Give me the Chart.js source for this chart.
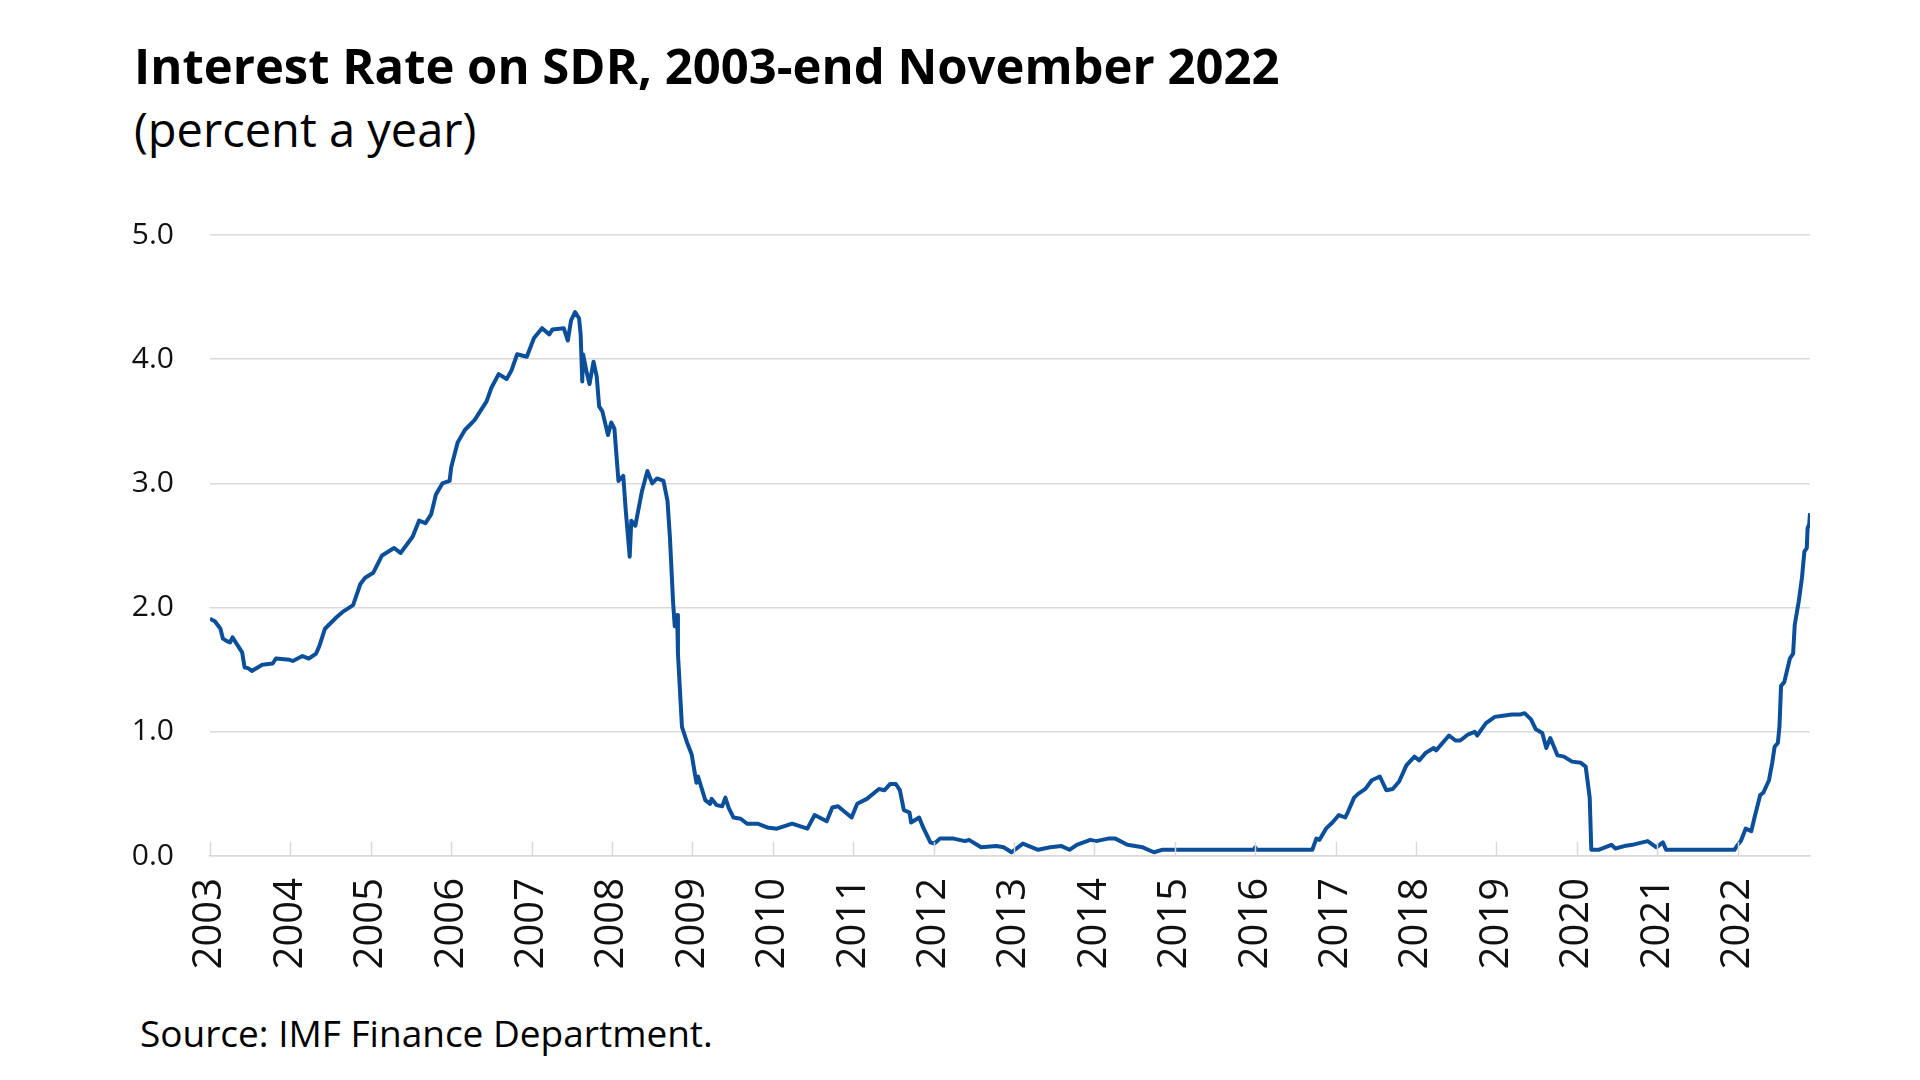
<!DOCTYPE html>
<html>
<head>
<meta charset="utf-8">
<script src="https://cdn.jsdelivr.net/npm/chart.js@4.4.1/dist/chart.umd.min.js"></script>
<style>
  html, body { margin: 0; padding: 0; background: #fff; }
  body { width: 1920px; height: 1080px; position: relative; overflow: hidden; font-family: "Open Sans", sans-serif; color: #000; }
  .txt { position: absolute; white-space: nowrap; line-height: 1; }
  #title { left: 134px; top: 41px; font-size: 49px; font-weight: 700; }
  #subtitle { left: 134px; top: 106px; font-size: 47px; }
  #source { left: 140px; top: 1014px; font-size: 37px; }
  #wrap { position: absolute; left: 0; top: 0; width: 1920px; height: 1080px; }
</style>
</head>
<body>
<div class="txt" id="title">Interest Rate on SDR, 2003-end November 2022</div>
<div class="txt" id="subtitle">(percent a year)</div>
<div class="txt" id="source">Source: IMF Finance Department.</div>
<div id="wrap"><canvas id="chart" width="1920" height="1080"></canvas></div>
<script>
// decimal years and SDR interest rate (percent a year)
const years = [
    2003.00, 2003.06, 2003.13, 2003.16, 2003.21, 2003.25, 2003.28, 2003.34, 2003.40, 2003.43,
    2003.48, 2003.52, 2003.65, 2003.78, 2003.82, 2003.99, 2004.03, 2004.15, 2004.23, 2004.32,
    2004.36, 2004.43, 2004.57, 2004.66, 2004.78, 2004.87, 2004.93, 2005.03, 2005.14, 2005.29,
    2005.37, 2005.52, 2005.60, 2005.68, 2005.75, 2005.81, 2005.89, 2005.98, 2006.00, 2006.08,
    2006.17, 2006.29, 2006.36, 2006.44, 2006.50, 2006.59, 2006.69, 2006.75, 2006.82, 2006.94,
    2007.03, 2007.13, 2007.22, 2007.26, 2007.40, 2007.45, 2007.49, 2007.54, 2007.59, 2007.61,
    2007.63, 2007.64, 2007.68, 2007.72, 2007.77, 2007.81, 2007.84, 2007.88, 2007.95, 2007.99,
    2008.03, 2008.08, 2008.14, 2008.17, 2008.22, 2008.24, 2008.29, 2008.37, 2008.44, 2008.50,
    2008.56, 2008.64, 2008.69, 2008.72, 2008.76, 2008.78, 2008.81, 2008.82, 2008.87, 2008.93,
    2008.99, 2009.05, 2009.07, 2009.16, 2009.22, 2009.24, 2009.30, 2009.37, 2009.41, 2009.45,
    2009.51, 2009.60, 2009.68, 2009.81, 2009.93, 2010.05, 2010.24, 2010.43, 2010.52, 2010.67,
    2010.74, 2010.81, 2010.98, 2011.05, 2011.17, 2011.32, 2011.39, 2011.46, 2011.53, 2011.58,
    2011.63, 2011.70, 2011.72, 2011.82, 2011.87, 2011.96, 2012.01, 2012.08, 2012.25, 2012.39,
    2012.44, 2012.59, 2012.78, 2012.87, 2012.97, 2013.11, 2013.30, 2013.45, 2013.59, 2013.69,
    2013.78, 2013.95, 2014.02, 2014.17, 2014.26, 2014.41, 2014.60, 2014.74, 2014.84, 2015.50,
    2015.98, 2016.00, 2016.02, 2016.71, 2016.76, 2016.80, 2016.88, 2016.96, 2017.04, 2017.12,
    2017.15, 2017.23, 2017.28, 2017.37, 2017.45, 2017.55, 2017.63, 2017.71, 2017.79, 2017.88,
    2017.98, 2018.04, 2018.12, 2018.22, 2018.25, 2018.41, 2018.49, 2018.55, 2018.65, 2018.73,
    2018.76, 2018.87, 2018.98, 2019.08, 2019.19, 2019.30, 2019.35, 2019.43, 2019.49, 2019.57,
    2019.62, 2019.67, 2019.76, 2019.84, 2019.94, 2020.05, 2020.11, 2020.16, 2020.18, 2020.27,
    2020.43, 2020.48, 2020.59, 2020.69, 2020.88, 2020.99, 2021.07, 2021.11, 2021.96, 2021.99,
    2022.04, 2022.10, 2022.17, 2022.21, 2022.28, 2022.32, 2022.39, 2022.43, 2022.46, 2022.50,
    2022.52, 2022.54, 2022.58, 2022.65, 2022.69, 2022.71, 2022.76, 2022.80, 2022.83, 2022.86,
    2022.87, 2022.89, 2022.90
];
const rates = [
    1.91, 1.89, 1.83, 1.75, 1.73, 1.72, 1.76, 1.70, 1.64, 1.52,
    1.51, 1.49, 1.54, 1.55, 1.59, 1.58, 1.57, 1.61, 1.59, 1.63,
    1.69, 1.83, 1.92, 1.97, 2.02, 2.19, 2.24, 2.28, 2.42, 2.48,
    2.44, 2.57, 2.70, 2.68, 2.75, 2.91, 3.00, 3.02, 3.13, 3.33,
    3.43, 3.51, 3.58, 3.66, 3.77, 3.88, 3.84, 3.91, 4.04, 4.02,
    4.17, 4.25, 4.20, 4.24, 4.25, 4.15, 4.31, 4.38, 4.33, 4.20,
    3.82, 4.04, 3.91, 3.80, 3.98, 3.86, 3.62, 3.58, 3.39, 3.49,
    3.44, 3.02, 3.06, 2.79, 2.41, 2.70, 2.66, 2.93, 3.10, 3.00,
    3.04, 3.02, 2.86, 2.57, 2.04, 1.85, 1.94, 1.63, 1.04, 0.92,
    0.82, 0.59, 0.64, 0.45, 0.42, 0.46, 0.41, 0.40, 0.47, 0.39,
    0.31, 0.30, 0.26, 0.26, 0.23, 0.22, 0.26, 0.22, 0.33, 0.28,
    0.39, 0.40, 0.31, 0.42, 0.46, 0.54, 0.53, 0.58, 0.58, 0.53,
    0.37, 0.35, 0.27, 0.31, 0.23, 0.11, 0.10, 0.14, 0.14, 0.12,
    0.13, 0.07, 0.08, 0.07, 0.03, 0.10, 0.05, 0.07, 0.08, 0.05,
    0.09, 0.13, 0.12, 0.14, 0.14, 0.09, 0.07, 0.03, 0.05, 0.05,
    0.05, 0.07, 0.05, 0.05, 0.14, 0.13, 0.22, 0.27, 0.33, 0.31,
    0.35, 0.47, 0.50, 0.54, 0.61, 0.64, 0.53, 0.54, 0.60, 0.73,
    0.80, 0.77, 0.83, 0.87, 0.85, 0.97, 0.93, 0.93, 0.98, 1.00,
    0.97, 1.07, 1.12, 1.13, 1.14, 1.14, 1.15, 1.10, 1.02, 0.99,
    0.87, 0.95, 0.81, 0.80, 0.76, 0.75, 0.72, 0.47, 0.05, 0.05,
    0.09, 0.06, 0.08, 0.09, 0.12, 0.07, 0.11, 0.05, 0.05, 0.08,
    0.12, 0.22, 0.20, 0.31, 0.49, 0.51, 0.61, 0.75, 0.88, 0.91,
    1.04, 1.37, 1.40, 1.59, 1.63, 1.86, 2.05, 2.24, 2.45, 2.48,
    2.64, 2.67, 2.76
];
const yTicks = [0, 1, 2, 3, 4, 5];
const firstYear = 2003;
const lastYear = 2022;

const gridColor = "#d9d9d9";

// short tick marks standing up from the x axis, inside the plot
const innerTicks = {
    id: "innerTicks",
    afterDraw(chart) {
        const x = chart.scales.x;
        const ctx = chart.ctx;
        const bottom = chart.chartArea.bottom;
        ctx.save();
        ctx.strokeStyle = gridColor;
        ctx.lineWidth = 1.5;
        x.ticks.forEach((t, i) => {
            const px = Math.round(x.getPixelForTick(i)) + 0.5;
            ctx.beginPath();
            ctx.moveTo(px, bottom);
            ctx.lineTo(px, bottom - 14);
            ctx.stroke();
        });
        ctx.restore();
    }
};

const ctx = document.getElementById("chart").getContext("2d");
new Chart(ctx, {
    type: "line",
    data: {
        datasets: [{
            data: years.map((yr, i) => ({ x: yr, y: rates[i] })),
            borderColor: "#0b4f9a",
            borderWidth: 4,
            pointRadius: 0,
            tension: 0,
            borderJoinStyle: "round",
            fill: false,
        }],
    },
    options: {
        responsive: false,
        animation: false,
        devicePixelRatio: 1,
        layout: { padding: { top: 235, right: 110, left: 0, bottom: 0 } },
        plugins: {
            legend: { display: false },
            tooltip: { enabled: false },
        },
        scales: {
            x: {
                type: "linear",
                min: firstYear,
                max: 2022.9,
                afterFit(scale) { scale.height = 1080 - 856; },
                afterBuildTicks(scale) {
                    const t = [];
                    for (let yr = firstYear; yr <= lastYear; yr++) t.push({ value: yr });
                    scale.ticks = t;
                },
                grid: { display: false, drawTicks: false },
                border: { display: true, color: gridColor, width: 1.5 },
                ticks: {
                    autoSkip: false,
                    minRotation: 90,
                    maxRotation: 90,
                    padding: 22,
                    color: "#111",
                    font: { family: "Open Sans", size: 40 },
                    callback: (v) => String(v),
                },
            },
            y: {
                min: 0,
                max: 5,
                afterFit(scale) { scale.width = 210; },
                afterBuildTicks(scale) {
                    scale.ticks = yTicks.map((v) => ({ value: v }));
                },
                grid: { color: gridColor, lineWidth: 1.5, drawTicks: false },
                border: { display: false },
                ticks: {
                    padding: 36,
                    color: "#111",
                    font: { family: "Open Sans", size: 30 },
                    callback: (v) => v.toFixed(1),
                },
            },
        },
    },
    plugins: [innerTicks],
});
</script>
</body>
</html>
